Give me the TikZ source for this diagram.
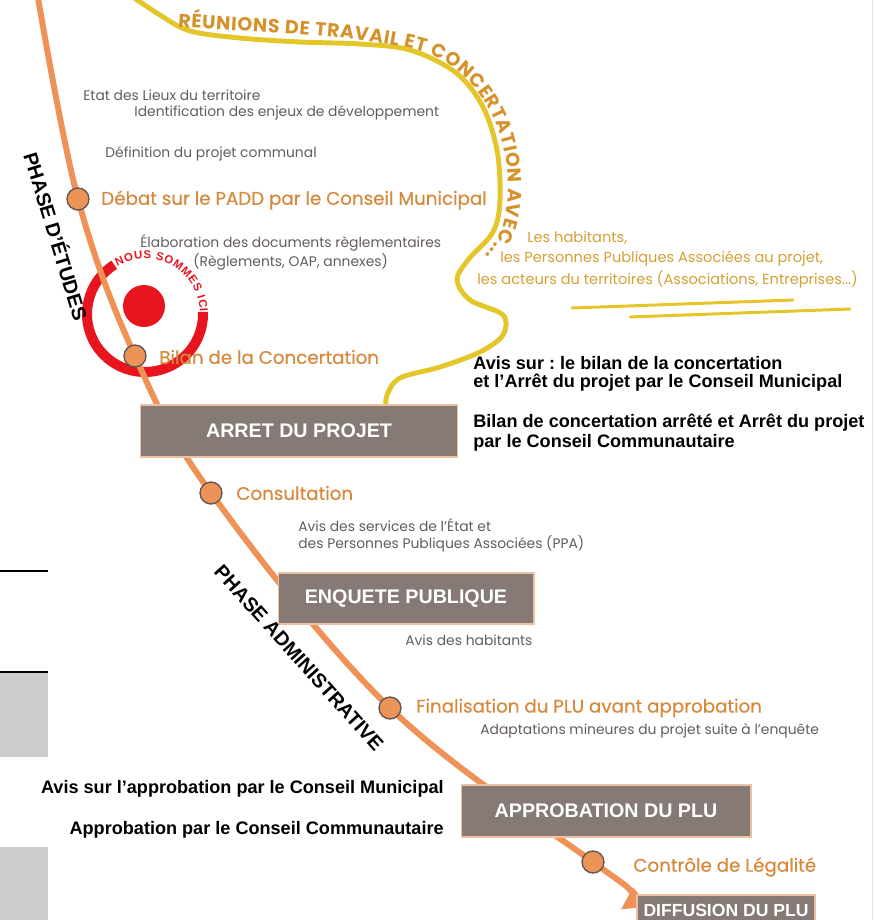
\documentclass[tikz,border=0pt]{standalone}
\usepackage{fontspec}
\setmainfont{Liberation Sans}
\newfontfamily\popfont{Poppins}
\newfontfamily\popstage{Poppins}[FakeBold=0.5]
\usetikzlibrary{arrows.meta,decorations.text,backgrounds}

\definecolor{plutrack}{RGB}{238,146,88}
\definecolor{pludot}{RGB}{236,148,88}
\definecolor{dotrim}{RGB}{100,88,80}
\definecolor{stagetxt}{RGB}{214,137,60}
\definecolor{notetxt}{RGB}{100,92,92}
\definecolor{concert}{RGB}{229,198,42}
\definecolor{concerttxt}{RGB}{212,160,52}
\definecolor{reuniontxt}{RGB}{214,146,42}
\definecolor{boxfill}{RGB}{133,122,117}
\definecolor{boxrim}{RGB}{238,192,162}
\definecolor{hered}{RGB}{232,20,30}
\definecolor{leftgray}{RGB}{204,204,204}

\tikzset{
  stagedot/.style={circle, fill=pludot, draw=dotrim, line width=0.8pt,
    minimum size=12.5pt, inner sep=0pt},
  stage/.style={anchor=west, inner sep=0pt, text=stagetxt,
    font=\popstage\fontsize{10.4}{12}\selectfont},
  note/.style={anchor=west, inner sep=0pt, text=notetxt,
    font=\popfont\fontsize{7.9}{9}\selectfont},
  actor/.style={anchor=west, inner sep=0pt, text=concerttxt,
    font=\popfont\fontsize{8.3}{9}\selectfont},
  council/.style={anchor=west, inner sep=0pt,
    font=\frenchspacing\bfseries\fontsize{10.3}{12}\selectfont},
  milestone/.style={draw=boxrim, fill=boxfill, line width=0.6pt, text=white,
    font=\bfseries\fontsize{11.2}{13}\selectfont},
  phase/.style={inner sep=0pt, font=\bfseries\fontsize{11.3}{13}\selectfont},
}

\begin{document}
\begin{tikzpicture}[x=0.02cm,y=-0.02cm]
  \useasboundingbox (0,0) rectangle (875,920);

  % bits of the page edge
  \draw[line width=1.2pt] (0,571) -- (48,571);
  \fill[leftgray] (0,673) rectangle (48,757);
  \draw[line width=1.2pt] (0,672) -- (48,672);
  \fill[leftgray] (0,847) rectangle (48,920);
  \draw[black!10, line width=0.4pt] (872,0) -- (872,920);

  % milestones
  \node[milestone, minimum width=6.36cm, minimum height=1.04cm] (arret) at (299,431) {ARRET DU PROJET};
  \node[milestone, minimum width=5.12cm, minimum height=1.02cm] (enquete) at (406,598.5) {ENQUETE PUBLIQUE};
  \node[milestone, minimum width=5.8cm, minimum height=1.04cm] (appro) at (606,811) {APPROBATION DU PLU};
  \node[milestone, minimum width=3.56cm, minimum height=0.6cm,
    font=\bfseries\fontsize{10}{12}\selectfont] (diffusion) at (726,910) {DIFFUSION DU PLU};

  % steps on the line
  \node[stagedot] (debat) at (78,199) {};
  \node[stagedot] (bilan) at (135,356) {};
  \node[stagedot] (consult) at (211,493) {};
  \node[stagedot] (final) at (390,708) {};
  \node[stagedot] (controle) at (593,862) {};
  \coordinate (top) at (37,-8);
  \coordinate (tip) at (633,887);

  \node[stage] (debatlbl) at (101,200) {Débat sur le PADD par le Conseil Municipal};
  \node[stage] (bilanlbl) at (159,357) {Bilan de la Concertation};
  \node[stage] (consultlbl) at (236,493) {Consultation};
  \node[stage] (finallbl) at (416,708) {Finalisation du PLU avant approbation};
  \node[stage] (controlelbl) at (633,867) {Contrôle de Légalité};

  % notes
  \node[note] (etat) at (83,95) {Etat des Lieux du territoire};
  \node[note] (enjeux) at (134,113) {Identification des enjeux de développement};
  \node[note] (defin) at (105,154) {Définition du projet communal};
  \node[note] (elab) at (140,243) {Élaboration des documents règlementaires};
  \node[note] (regl) at (193,262) {(Règlements, OAP, annexes)};
  \node[note] (avisetat) at (298,525) {Avis des services de l’État et};
  \node[note] (avisppa) at (298,544) {des Personnes Publiques Associées (PPA)};
  \node[note] (avishab) at (405,640) {Avis des habitants};
  \node[note] (adapt) at (480,731) {Adaptations mineures du projet suite à l’enquête};

  \node[actor] (hab) at (527,238) {Les habitants,};
  \node[actor] (ppa) at (500,259) {les Personnes Publiques Associées au projet,};
  \node[actor] (acteurs) at (477,280) {les acteurs du territoires (Associations, Entreprises...)};

  \node[council] (avisbilan) at (473,363) {Avis sur : le bilan de la concertation};
  \node[council] (avisarret) at (473,383) {et l’Arrêt du projet par le Conseil Municipal};
  \node[council] (bilanarr) at (473,423) {Bilan de concertation arrêté et Arrêt du projet};
  \node[council] (parcc) at (473,443) {par le Conseil Communautaire};
  \node[council, anchor=east] (avisappro) at (444,789) {Avis sur l’approbation par le Conseil Municipal};
  \node[council, anchor=east] (approcc) at (444,830) {Approbation par le Conseil Communautaire};

  \node[phase, rotate=-73] (etudes) at (57,236) {PHASE D’ÉTUDES};
  \node[phase, rotate=-48] (admin) at (299,658) {PHASE ADMINISTRATIVE};

  % we are here
  \node[circle, fill=hered, minimum size=0.84cm, inner sep=0pt] (ici) at (144,306) {};
  \coordinate (ring) at (145,314);

  \begin{scope}[on background layer]
    \draw[hered, line width=5.7pt] ([shift={(-122:58)}]ring) arc[start angle=-122, end angle=-362, radius=58];
    \path[decorate, decoration={text along path, text align={fit to path},
      text={|\bfseries\fontsize{6.5}{7}\selectfont\color{hered}|NOUS SOMMES ICI}}]
      ([shift={(-120:55)}]ring) arc[start angle=-120, end angle=-2, radius=55];

    % concertation
    \draw[concert, line width=2.8pt, line cap=round] plot[smooth, tension=0.55] coordinates {
      (130,-5) (160,15) (190,31) (240,38) (300,42) (360,44) (410,50) (455,72) (482,105)
      (497,150) (500,200) (493,232) (468,260) (457,280) (470,300) (503,315) (503,335)
      (480,352) (440,367) (400,378) (387,395) (386,410)};
    \path[decorate, decoration={text along path, text align={fit to path},
      text={|\popfont\bfseries\fontsize{10.8}{12}\selectfont\color{reuniontxt}|RÉUNIONS DE TRAVAIL ET CONCERTATION AVEC...}}]
      (178,27) .. controls (260,32) and (380,36) .. (430,54)
      .. controls (475,75) and (506,120) .. (508,180)
      .. controls (509,215) and (501,240) .. (485,255);
    \draw[concert, line width=1.7pt, line cap=round] (572,308) -- (793,300);
    \draw[concert, line width=1.7pt, line cap=round] (630,317) -- (850,309);

    % the procedure
    \draw[plutrack, line width=3.4pt, -{Triangle[length=12pt, width=15pt]}]
      plot[smooth, tension=0.6] coordinates {(top) (debat.center) (bilan.center)
      (consult.center) (final.center) (controle.center) (tip)};
  \end{scope}
\end{tikzpicture}
\end{document}
